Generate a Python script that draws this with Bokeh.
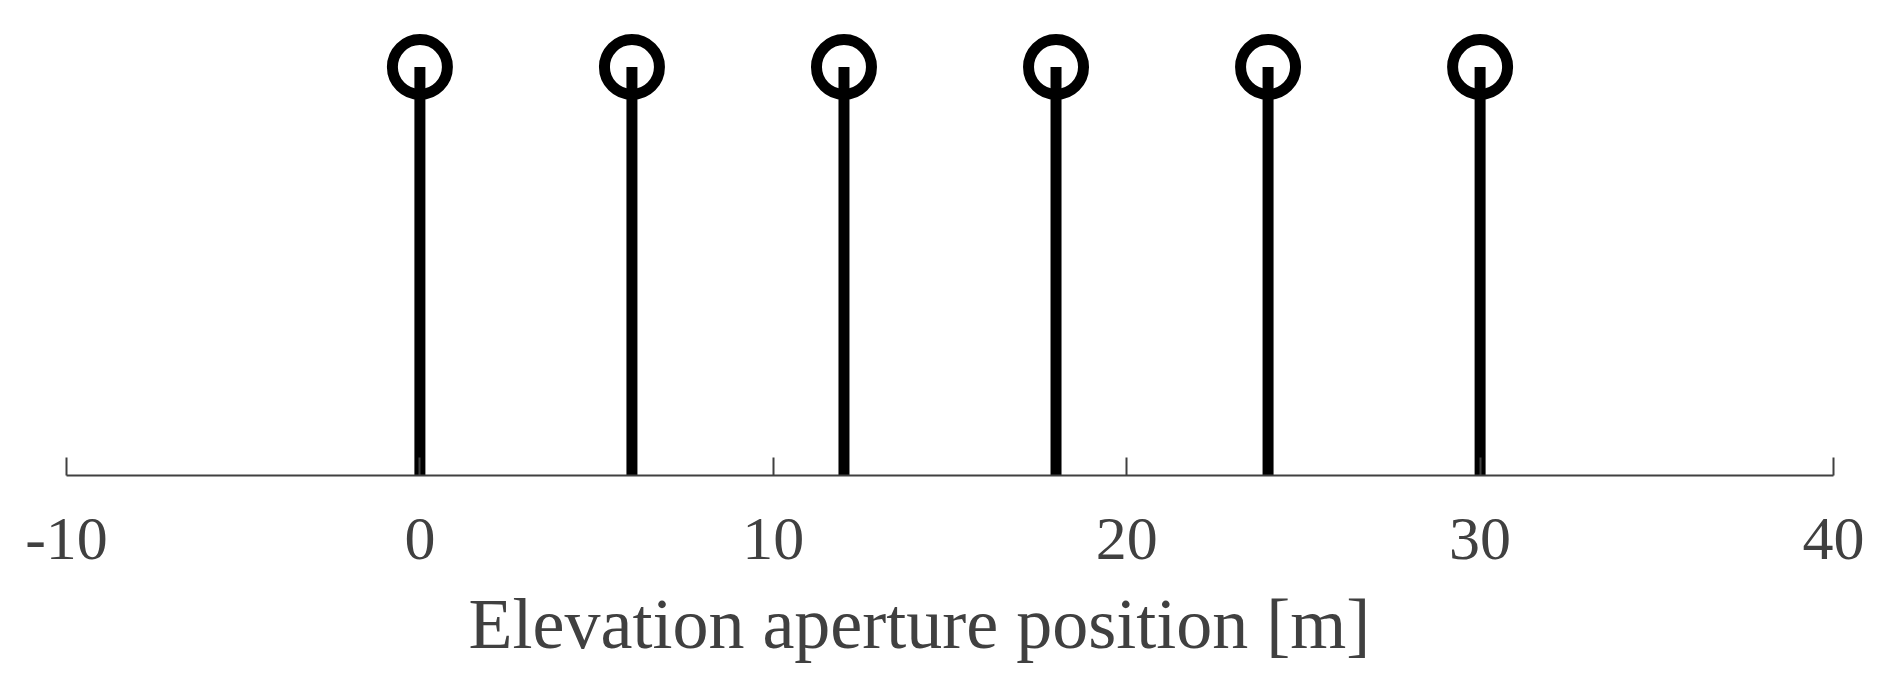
from bokeh.plotting import figure
from bokeh.embed import file_html
from bokeh.resources import INLINE
from bokeh.models import Range1d, FixedTicker, Title

# Data
positions = [0, 6, 12, 18, 24, 30]
amplitudes = [1, 1, 1, 1, 1, 1]
x_ticks = [-10, 0, 10, 20, 30, 40]
x_tick_labels = ["-10", "0", "10", "20", "30", "40"]
x_label = "Elevation aperture position [m]"

p = figure(
    output_backend="svg", toolbar_location=None,
    frame_width=1767, frame_height=467,
    min_border_left=66, min_border_right=36, min_border_top=8, min_border_bottom=0,
    x_range=Range1d(-10, 40), y_range=Range1d(0, 1.1432),
)
p.outline_line_color = None
p.grid.visible = False
p.yaxis.visible = False

p.segment(x0=positions, y0=[0] * len(positions), x1=positions, y1=amplitudes,
          line_color="black", line_width=11)
p.scatter(x=positions, y=amplitudes, marker="circle", size=55,
          fill_color=None, line_color="black", line_width=11)

ax = p.xaxis[0]
ax.ticker = FixedTicker(ticks=x_ticks)
ax.major_label_overrides = {t: s for t, s in zip(x_ticks, x_tick_labels)}
ax.major_tick_in = 18
ax.major_tick_out = 0
ax.minor_tick_line_color = None
ax.axis_line_color = "#404040"
ax.axis_line_width = 2
ax.major_tick_line_color = "#404040"
ax.major_tick_line_width = 2
ax.major_label_text_font = "Liberation Serif"
ax.major_label_text_font_size = "62px"
ax.major_label_text_color = "#404040"
ax.major_label_standoff = 43

p.add_layout(Title(text=x_label, align="left", offset=402, standoff=40,
                   text_font="Liberation Serif", text_font_size="72px",
                   text_font_style="normal", text_color="#404040"), "below")

open("out.html", "w").write(file_html(p, INLINE))
